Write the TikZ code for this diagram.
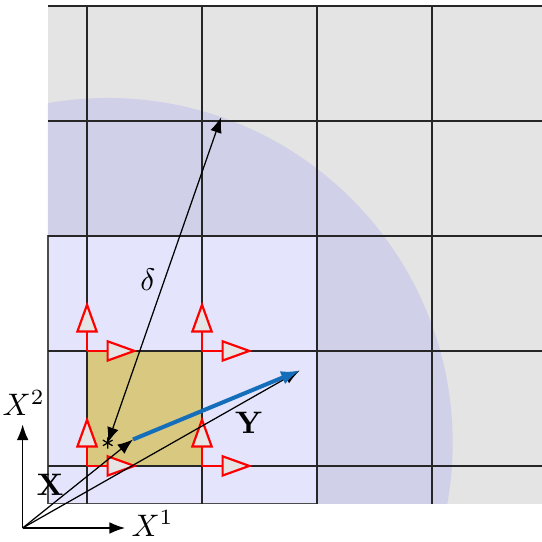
\documentclass[tikz,border=0pt]{standalone}
\definecolor{cellgray}{RGB}{228,228,228}
\definecolor{ballblue}{RGB}{208,208,232}
\definecolor{patchblue}{RGB}{228,228,252}
\definecolor{cellkhaki}{RGB}{216,200,128}
\definecolor{vecblue}{RGB}{20,110,185}
\usepackage{tikz}
\usetikzlibrary{calc, arrows.meta, plotmarks}
\usepackage{amsmath,amssymb}

\begin{document}
\begin{tikzpicture}[x=1.3cm, y=1.3cm,
  gridln/.style={line width=0.6pt, black!85},
  flux/.style={red, line width=0.7pt, -{Triangle[length=10pt, width=7pt, fill=gray!20]}},
  vec/.style={-{Latex[length=5pt]}, thin},
]
\useasboundingbox (-0.757,-0.661) rectangle (3.957,4.052);
\coordinate (o) at (-0.56,-0.54);
\coordinate (xs) at (0.18,0.2);
\coordinate (xt) at (0.4,0.23);
\coordinate (yt) at (1.85,0.83);
\coordinate (dt) at ($(xs)+(70.8:3)$);
\fill[cellgray] (-0.34,-0.33) rectangle (3.957,4);
\begin{scope}
  \clip (-0.34,-0.33) rectangle (3.957,4);
  \fill[ballblue] (xs) circle (3);
\end{scope}
\filldraw[fill=patchblue, draw=black!70, thin] (-0.34,-0.33) rectangle (2,2);
\fill[cellkhaki] (0,0) rectangle (1,1);
\foreach \x in {0,...,3}
  \draw[gridln] (\x,-0.33) -- (\x,4);
\foreach \y in {0,...,4}
  \draw[gridln] (-0.34,\y) -- (3.957,\y);
\foreach \x in {0,1}
  \foreach \y in {0,1} {
    \draw[flux] (\x,\y) -- ++(0.44,0);
    \draw[flux] (\x,\y) -- ++(0,0.43);
  }
\draw[vec] (o) -- (xt);
\draw[vec] (o) -- (yt);
\draw[vecblue, line width=1.3pt, -{Latex[length=6pt]}] (xt) -- (yt);
\draw[{Latex[length=5pt]}-{Latex[length=5pt]}, thin] (xs) -- (dt);
\draw[thin] plot[mark=asterisk, mark size=1.8pt] coordinates {(xs)};
\draw[vec] (o) -- ++(0.89,0) coordinate (e1);
\draw[vec] (o) -- ++(0,0.9) coordinate (e2);
\node (l1) at (0.57,-0.5) {$X^1$};
\node (l2) at (-0.55,0.55) {$X^2$};
\node (lx) at (-0.32,-0.165) {$\mathbf{X}$};
\node (ly) at (1.41,0.374) {$\mathbf{Y}$};
\node (ld) at (0.53,1.62) {$\delta$};
\end{tikzpicture}
\end{document}
